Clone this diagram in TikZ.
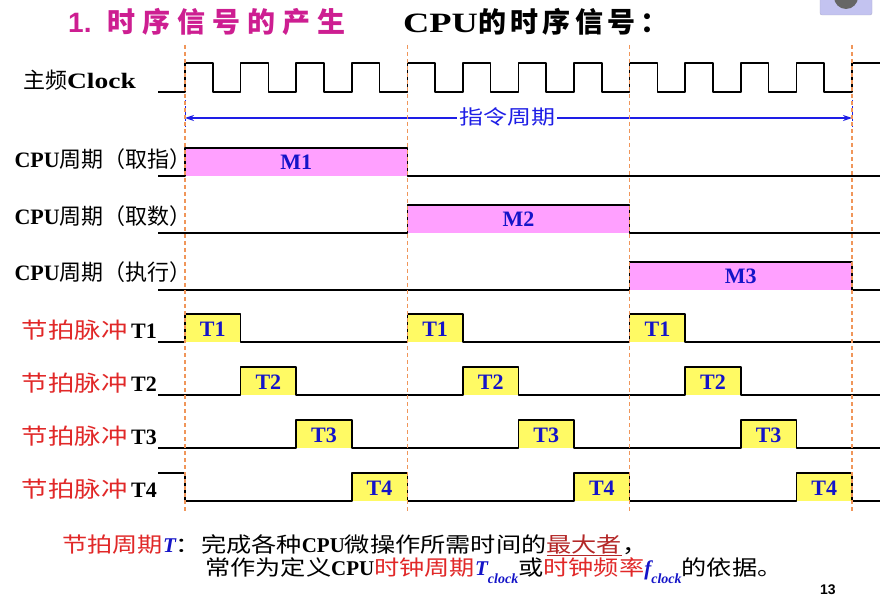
\documentclass[tikz,border=0pt]{standalone}
\usepackage{fontspec}
\usepackage{graphicx}
\setmainfont{Liberation Serif}
\newfontfamily\sansf{Liberation Sans}
\newfontfamily\cjk{Noto Sans CJK SC}
\newfontfamily\cjkw{Noto Sans CJK SC}[FakeStretch=1.2]
\newfontfamily\cjkt{Noto Sans CJK SC}[LetterSpace=25]
\newfontfamily\cjks{Noto Sans CJK SC}[LetterSpace=16]
\usetikzlibrary{arrows.meta, calc, positioning}
\definecolor{mfill}{RGB}{255,160,255}
\definecolor{tfill}{RGB}{255,250,100}
\definecolor{tblue}{RGB}{20,20,200}
\definecolor{lblred}{RGB}{225,40,40}
\definecolor{darkred}{RGB}{180,40,40}
\definecolor{titlemag}{RGB}{205,30,145}
\definecolor{guideor}{RGB}{240,150,90}
\definecolor{ablue}{RGB}{30,30,230}
\definecolor{iconbg}{RGB}{195,195,240}

\begin{document}
\begin{tikzpicture}[x=1pt, y=-1pt,% pixel units, y down
         > = {Stealth[length=9pt, width=6pt]},
sig/.style = {line width=1.6pt, line join=round},
guide/.style = {guideor, line width=1.1pt, dash pattern=on 4pt off 3pt},
lab/.style = {anchor=base east, inner sep=0pt,
              font=\fontsize{22}{22}\selectfont\bfseries},
tag/.style = {inner sep=0pt, text=tblue,
              font=\fontsize{22}{22}\selectfont\bfseries},
note/.style = {anchor=base west, inner sep=0pt,
               font=\fontsize{21}{21}\selectfont}
                        ]
	\useasboundingbox (0,0) rectangle (891,609);
	\fill[white] (0,0) rectangle (891,609);
	% slide button
	\draw[iconbg!70!gray, fill=iconbg, rounded corners=2pt] (820,-5) rectangle (872,15);
	\fill[gray!80!black] (846,-3) circle (12);

	% title
	\node[anchor=base west, inner sep=0pt, text=titlemag,
	      font=\fontsize{28}{28}\selectfont\bfseries] (title) at (68,33)
	      {{\sansf 1.}\hspace{16pt}{\cjkt 时序信号的产生}};
	\node[anchor=base west, inner sep=0pt,
	      font=\fontsize{28}{28}\selectfont\bfseries] (subtitle) at (403,33)
	      {\scalebox{1.3}[1]{CPU}{\cjks 的时序信号：}};

	% clock
	\node[lab] (lclock) at (136,89) {{\cjk\mdseries 主频}\scalebox{1.25}[1]{Clock}};
	\draw[sig] (158,92) -- (185,92)
	      \foreach \k in {0,...,11}{ -- ++(0,-29) -- ++(27.79,0) -- ++(0,29) -- ++(27.79,0) }
	      -- ++(0,-29) -- (880,63);

	% instruction cycle
	\coordinate (as) at (185,118);
	\coordinate (ae) at (852,118);
	\draw[ablue, dashed, line width=1pt] (185,100) -- (185,134) (852,100) -- (852,134);
	\draw[ablue, line width=1.2pt, <->] (as) -- (ae);
	\node[fill=white, inner sep=2pt, text=ablue,
	      font=\fontsize{20}{20}\selectfont\cjkw] (icycle) at (507,117) {指令周期};

	% CPU cycles
	\node[lab] (lfetch) at (192,168) {CPU{\cjk\mdseries 周期（取指）}};
	\node[lab] (lload)  at (192,225) {CPU{\cjk\mdseries 周期（取数）}};
	\node[lab] (lexec)  at (192,281) {CPU{\cjk\mdseries 周期（执行）}};
	\foreach \i/\lo in {0/176,1/233,2/290}{
		\pgfmathsetmacro\xs{185+\i*222.33}
		\pgfmathsetmacro\xe{\xs+222.33}
		\pgfmathtruncatemacro\m{\i+1}
		\fill[mfill] (\xs,\lo-28) rectangle (\xe,\lo);
		\draw[sig] (158,\lo) -- (\xs,\lo) -- (\xs,\lo-28) -- (\xe,\lo-28) -- (\xe,\lo) -- (880,\lo);
		\node[tag] (m\m) at ({(\xs+\xe)/2},\lo-14) {M\m};
	}

	% beat pulses
	\foreach \j/\lo/\st in {1/342/342, 2/395/395, 3/448/448, 4/501/473}{
		\node[lab] (lt\j) at (157,\lo-4) {{\cjkw\mdseries\color{lblred}节拍脉冲}\,T\j};
		\foreach \c in {0,1,2}{
			\pgfmathsetmacro\xs{185+(4*\c+\j-1)*55.58}
			\fill[tfill] (\xs,\lo-28) rectangle ++(55.58,28);
			\node[tag] (t\j\c) at (\xs+27.79,\lo-13) {T\j};
		}
		\draw[sig] (158,\st) -- (185,\st) -- (185,\lo)
		      \foreach \c in {0,1,2}{ -- ({185+(4*\c+\j-1)*55.58},\lo) -- ++(0,-28) -- ++(55.58,0) -- ++(0,28) }
		      -- (880,\lo);
	}

	% guide lines
	\foreach \x in {185,407.33,629.67,852}
		\draw[guide] (\x,45) -- (\x,512);

	% remark
	\node[note] (note1) at (62,552)
	      {{\cjkw\color{lblred}节拍周期}{\color{tblue}\bfseries\itshape T}{\cjkw ：完成各种}\textbf{CPU}{\cjkw 微操作所需时间的}{\cjkw\color{darkred}\underline{最大者}}{\cjkw ，}};
	\node[note] (note2) at (205,575)
	      {{\cjkw 常作为定义}\textbf{CPU}{\cjkw\color{lblred}时钟周期}{\color{tblue}\bfseries\itshape T\raisebox{-8pt}{\fontsize{14}{14}\selectfont clock}}{\cjkw 或}{\cjkw\color{lblred}时钟频率}{\color{tblue}\bfseries\itshape f\raisebox{-8pt}{\fontsize{14}{14}\selectfont clock}}{\cjkw 的依据。}};
	\node[anchor=base west, inner sep=0pt, font=\fontsize{14}{14}\selectfont\sansf\bfseries] (pageno) at (820,594) {13};
\end{tikzpicture}
\end{document}
